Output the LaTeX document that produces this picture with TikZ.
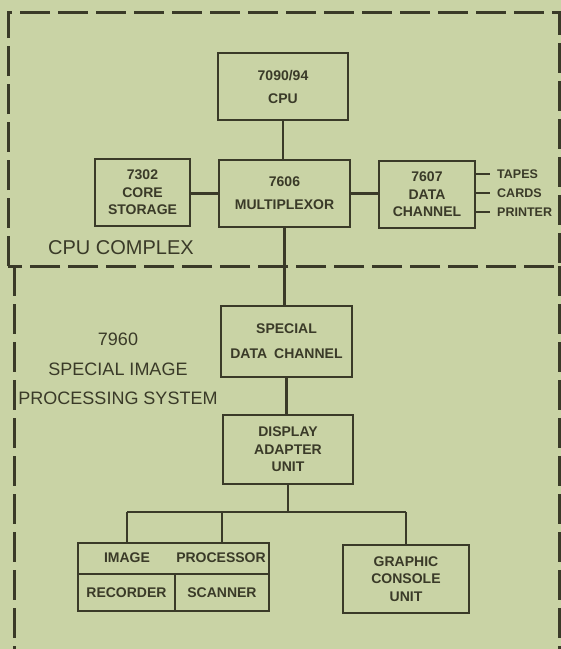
\documentclass[tikz,border=0pt]{standalone}
\usepackage{fontspec}
\setmainfont{Liberation Sans}
\definecolor{paper}{HTML}{C9D3A5}
\definecolor{ink}{HTML}{3A3A28}

\begin{document}
\begin{tikzpicture}[x=1pt,y=-1pt,
    every node/.style={inner sep=0pt, text=ink},
    unit/.style={draw=ink, line width=2.6pt, rectangle, align=center,
        font=\bfseries\fontsize{14}{17.5}\selectfont},
    tag/.style={font=\bfseries\fontsize{12.5}{15}\selectfont, anchor=west},
    wire/.style={draw=ink, line width=2.6pt},
    frame/.style={draw=ink, line width=3pt, dash pattern=on 30pt off 8pt},
    caption/.style={font=\fontsize{18}{29.5}\selectfont, align=center}]
    \useasboundingbox (0,0) rectangle (561,649);
    \fill [paper] (0,0) rectangle (561,649);
    \clip (0,0) rectangle (561,649);
    % dashed frames
    \draw [frame] (8,266) -- (8,12) -- (559,12) -- (559,266) -- cycle;
    \draw [frame] (14,266) -- (14,670);
    \draw [frame] (559,266) -- (559,670);
    % cpu complex
    \node [unit, minimum width=130pt, minimum height=67pt] (cpu) at (283,86.5) {7090/94\\[5.5pt]CPU};
    \node [unit, minimum width=95pt, minimum height=67pt] (core) at (142.5,192.5) {7302\\CORE\\STORAGE};
    \node [unit, minimum width=131pt, minimum height=67pt] (mux) at (284.5,193.5) {7606\\[5.5pt]MULTIPLEXOR};
    \node [unit, minimum width=96pt, minimum height=67pt] (dch) at (427,194.5) {7607\\DATA\\CHANNEL};
    \node [tag] (tapes) at (497,174) {TAPES};
    \node [tag] (cards) at (497,193) {CARDS};
    \node [tag] (printer) at (497,212) {PRINTER};
    \node [font=\fontsize{20}{24}\selectfont, anchor=west] (cpucx) at (48,248) {CPU COMPLEX};
    \draw [wire] (cpu.south) -- (cpu.south |- mux.north);
    \draw [wire] (core.east |- mux.west) -- (mux.west);
    \draw [wire] (mux.east) -- (dch.west |- mux.east);
    \draw [wire] (dch.east |- tapes) -- ([xshift=-7pt]tapes.west);
    \draw [wire] (dch.east |- cards) -- ([xshift=-7pt]cards.west);
    \draw [wire] (dch.east |- printer) -- ([xshift=-7pt]printer.west);
    % image processing system
    \node [caption] (sips) at (118,369) {7960\\SPECIAL IMAGE\\PROCESSING SYSTEM};
    \node [unit, minimum width=131pt, minimum height=71pt] (sdc) at (286.5,341.5) {SPECIAL\\[7.5pt]DATA\enspace CHANNEL};
    \node [unit, minimum width=130pt, minimum height=69pt] (dau) at (288,449.5) {DISPLAY\\ADAPTER\\UNIT};
    \node [unit, minimum width=191pt, minimum height=31pt] (ips) at (173.5,558.5) {};
    \node [unit, minimum width=97pt, minimum height=37pt] (rec) at (126.5,592.5) {RECORDER};
    \node [unit, minimum width=94pt, minimum height=37pt] (scan) at (222,592.5) {SCANNER};
    \node [font=\bfseries\fontsize{14}{15}\selectfont] (image) at (127,558) {IMAGE};
    \node [font=\bfseries\fontsize{14}{15}\selectfont] (proc) at (221,558) {PROCESSOR};
    \node [unit, minimum width=126pt, minimum height=68pt] (gcu) at (406,579) {GRAPHIC\\CONSOLE\\UNIT};
    \coordinate (busl) at (127,512);
    \coordinate (busm) at (222,512);
    \coordinate (busr) at (406,512);
    \draw [wire] (mux.south) -- (mux.south |- sdc.north);
    \draw [wire] (sdc.south) -- (sdc.south |- dau.north);
    \draw [wire] (dau.south) -- (dau.south |- busl);
    \draw [wire] (busl) -- (busr);
    \draw [wire] (busl) -- (busl |- ips.north);
    \draw [wire] (busm) -- (busm |- ips.north);
    \draw [wire] (busr) -- (busr |- gcu.north);
\end{tikzpicture}
\end{document}
